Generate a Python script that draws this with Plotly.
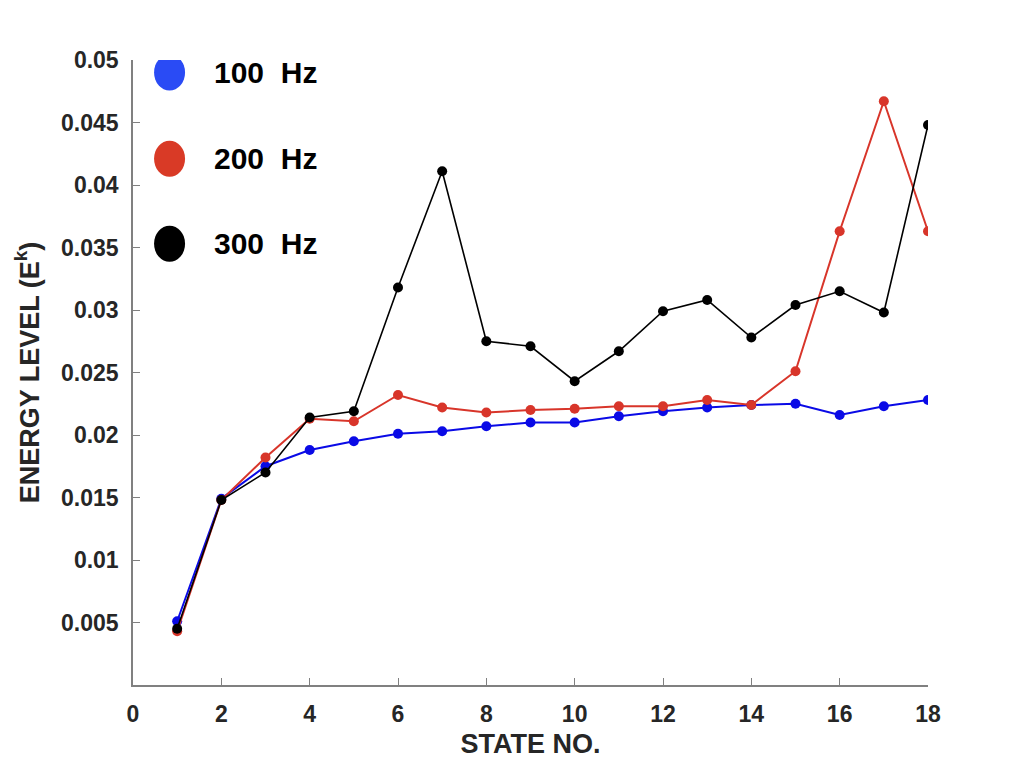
import plotly.graph_objects as go

states = list(range(1, 19))
hz100 = [0.0051, 0.0149, 0.0175, 0.0188, 0.0195, 0.0201, 0.0203, 0.0207, 0.0210, 0.0210,
         0.0215, 0.0219, 0.0222, 0.0224, 0.0225, 0.0216, 0.0223, 0.0228]
hz200 = [0.0043, 0.0148, 0.0182, 0.0213, 0.0211, 0.0232, 0.0222, 0.0218, 0.0220, 0.0221,
         0.0223, 0.0223, 0.0228, 0.0224, 0.0251, 0.0363, 0.0467, 0.0363]
hz300 = [0.0045, 0.0148, 0.0170, 0.0214, 0.0219, 0.0318, 0.0411, 0.0275, 0.0271, 0.0243,
         0.0267, 0.0299, 0.0308, 0.0278, 0.0304, 0.0315, 0.0298, 0.0448]

series_names = ["100  Hz", "200  Hz", "300  Hz"]
line_colors = ["#0a0ae6", "#d8352a", "#000000"]
legend_colors = ["#2a4bf5", "#d93a26", "#000000"]
x_ticks = list(range(0, 19, 2))
y_ticks = [0.005, 0.01, 0.015, 0.02, 0.025, 0.03, 0.035, 0.04, 0.045, 0.05]
y_tick_labels = ["0.005", "0.01", "0.015", "0.02", "0.025", "0.03", "0.035", "0.04", "0.045", "0.05"]

fig = go.Figure()
for name, ys, col, lw in zip(series_names, [hz100, hz200, hz300], line_colors, [2, 2, 1.6]):
    fig.add_trace(go.Scatter(x=states, y=ys, mode="lines+markers", name=name,
                             line=dict(color=col, width=lw),
                             marker=dict(color=col, size=10), showlegend=False))

font_family = "Liberation Sans, Arial, Helvetica, sans-serif"
tick_font = dict(family=font_family, size=23, color="#262626", weight="bold")
title_font = dict(family=font_family, size=27, color="#262626", weight="bold")

fig.update_layout(
    width=1024, height=768,
    margin=dict(l=133, r=96, t=60, b=83),
    paper_bgcolor="white", plot_bgcolor="white",
    xaxis=dict(range=[0, 18], tickvals=x_ticks, ticks="inside", ticklen=7, tickwidth=1,
               tickcolor="#808080", showline=True, linecolor="#808080", linewidth=1.5,
               showgrid=False, zeroline=False, tickfont=tick_font, ticklabelstandoff=8,
               title=dict(text="STATE NO.", font=title_font, standoff=8)),
    yaxis=dict(range=[0, 0.05], tickvals=y_ticks, ticktext=y_tick_labels, ticks="inside", ticklen=7,
               tickwidth=1, tickcolor="#808080", showline=True, linecolor="#808080", linewidth=1.5,
               showgrid=False, zeroline=False, tickfont=tick_font, ticklabelstandoff=8,
               title=dict(text="ENERGY LEVEL (E<sup>k</sup>)", font=title_font, standoff=14)),
)

legend_y = [0.0490, 0.0421, 0.0353]
for name, col, yv in zip(series_names, legend_colors, legend_y):
    fig.add_shape(type="circle", xref="paper", yref="y", xsizemode="pixel", ysizemode="pixel",
                  xanchor=0.046, yanchor=yv, x0=-15.5, x1=15.5, y0=-18, y1=18,
                  fillcolor=col, line=dict(width=0))
    fig.add_annotation(xref="paper", yref="y", x=0.099, y=yv, text=name,
                       showarrow=False, xanchor="left", yanchor="middle",
                       font=dict(family=font_family, size=30, color="black", weight="bold"))

fig.write_html("out.html")
